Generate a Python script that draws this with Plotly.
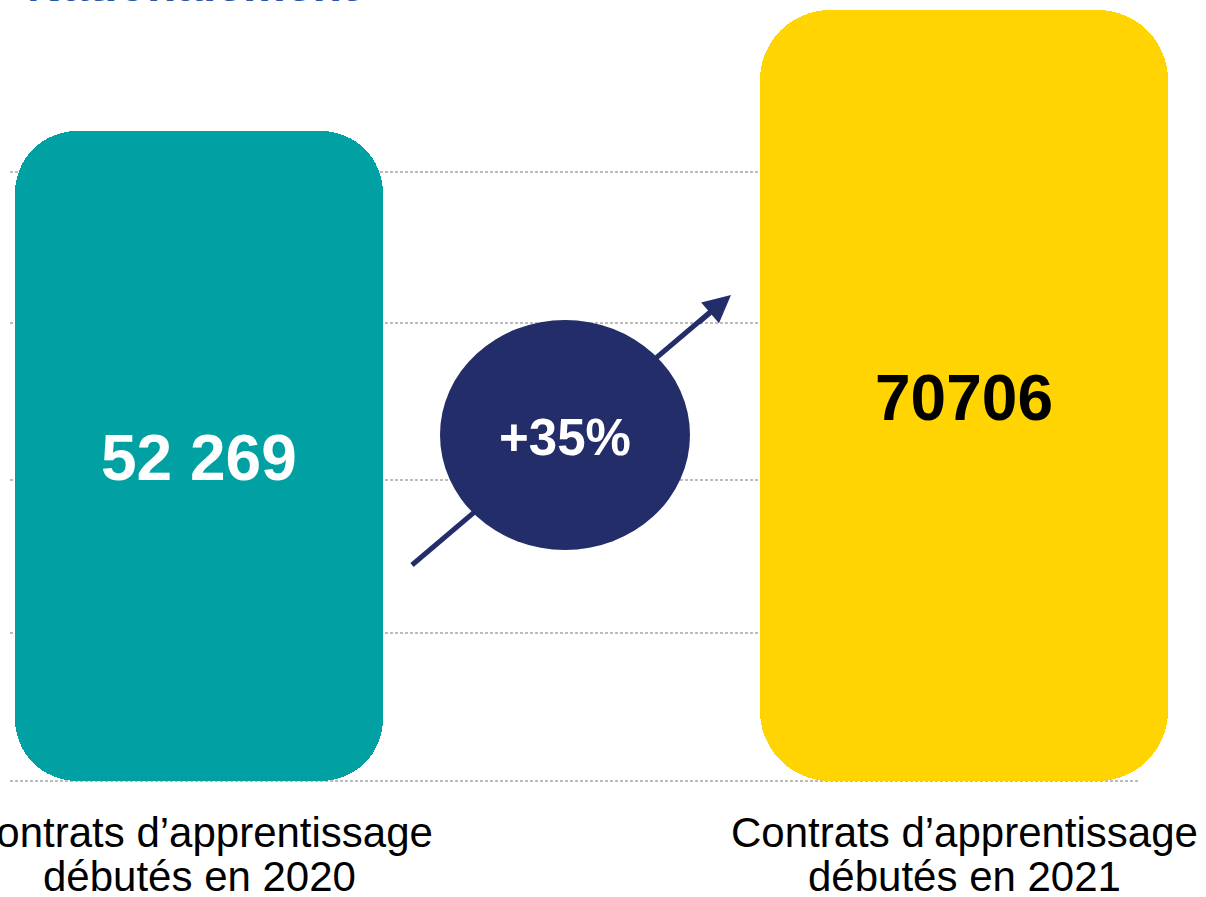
import plotly.graph_objects as go

# ---------------- data ----------------
categories = ["2020", "2021"]
values = [52269, 70706]
value_labels = ["52 269", "70706"]
label_line1 = ["Contrats d\u2019apprentissage", "Contrats d\u2019apprentissage"]
label_line2 = ["débutés en 2020", "débutés en 2021"]
growth_label = "+35%"
title_text = "Nationalement"

# ---------------- styling / layout constants ----------------
W, H = 1206, 897
PLOT_H = 797                      # plot area height in px (top margin 0)
BASE_PX = 781                     # pixel row of the baseline
Y_MAX = 72230                     # axis value at the top edge of the page
BAR_BASE = -46773                 # axis value at the baseline (decorative bar foot)
bar_colors = ["#00A0A3", "#FFD400"]
text_colors = ["#FFFFFF", "#000000"]
bar_widths = [0.481, 0.533]
corner_r = [62, 70]
NAVY = "#232D69"
GRID = "#A6A6A6"
X_RANGE = [-0.26013, 1.31634]
FONT = "Liberation Sans, Arial, sans-serif"

upp = (Y_MAX - BAR_BASE) / BASE_PX   # axis units per pixel


def py(p):
    """pixel row -> y axis value"""
    return Y_MAX - p * upp


def pyp(p):
    """pixel row -> paper y"""
    return (PLOT_H - p) / PLOT_H


def px(p):
    """pixel column -> x axis value"""
    return X_RANGE[0] + p * (X_RANGE[1] - X_RANGE[0]) / W


fig = go.Figure()

# rounded bars: value bar (rounded top) + foot below zero (rounded bottom) + seam band
for i, cat in enumerate(categories):
    mk = dict(color=bar_colors[i], line=dict(width=0), cornerradius=corner_r[i])
    fig.add_trace(go.Bar(x=[cat], y=[values[i]], width=[bar_widths[i]], marker=mk,
                         hoverinfo="skip", showlegend=False))
    fig.add_trace(go.Bar(x=[cat], y=[BAR_BASE], width=[bar_widths[i]], marker=mk,
                         hoverinfo="skip", showlegend=False))
    fig.add_trace(go.Bar(x=[cat], y=[8000], base=[-4000], width=[bar_widths[i]],
                         marker=dict(color=bar_colors[i], line=dict(width=0)),
                         hoverinfo="skip", showlegend=False))

shapes = []
# dotted guide lines
for gp in [172, 323, 480, 633, 781]:
    shapes.append(dict(type="line", xref="paper", yref="y",
                       x0=10 / W, x1=1140 / W, y0=py(gp), y1=py(gp),
                       line=dict(color=GRID, width=1.3, dash="3px,2px"), layer="below"))
# arrow shaft
shapes.append(dict(type="line", xref="x", yref="y",
                   x0=px(412), y0=py(565), x1=px(715), y1=py(308),
                   line=dict(color=NAVY, width=5)))
# ellipse
shapes.append(dict(type="circle", xref="x", yref="y",
                   x0=px(440), x1=px(690), y0=py(550), y1=py(320),
                   fillcolor=NAVY, line=dict(width=0)))

annotations = []
# arrowhead
annotations.append(dict(x=px(731), y=py(295), xref="x", yref="y", text="",
                        showarrow=True, axref="pixel", ayref="pixel", ax=-34, ay=29,
                        arrowhead=2, arrowsize=1.1, arrowwidth=5, arrowcolor=NAVY,
                        standoff=0))
# value labels
val_y = [458, 398]
for i, cat in enumerate(categories):
    annotations.append(dict(x=i, y=py(val_y[i]), xref="x", yref="y",
                            text=f"<b>{value_labels[i]}</b>", showarrow=False,
                            xanchor="center", yanchor="middle",
                            font=dict(family=FONT, size=64, color=text_colors[i])))
# growth label
annotations.append(dict(x=px(565), y=py(437), xref="x", yref="y",
                        text=f"<b>{growth_label}</b>", showarrow=False,
                        xanchor="center", yanchor="middle",
                        font=dict(family=FONT, size=51, color="#FFFFFF")))
# category labels
for i, cat in enumerate(categories):
    annotations.append(dict(x=i, y=pyp(833), xref="x", yref="paper",
                            text=label_line1[i], showarrow=False,
                            xanchor="center", yanchor="middle",
                            font=dict(family=FONT, size=42, color="#000000")))
    annotations.append(dict(x=i, y=pyp(876), xref="x", yref="paper",
                            text=label_line2[i], showarrow=False,
                            xanchor="center", yanchor="middle",
                            font=dict(family=FONT, size=42, color="#000000")))
# title (cut by the top edge)
annotations.append(dict(x=25 / W, y=pyp(-16), xref="paper", yref="paper",
                        text=f"<b>{title_text}</b>", showarrow=False,
                        xanchor="left", yanchor="middle",
                        font=dict(family=FONT, size=48, color="#2A56A3")))

fig.update_layout(
    width=W, height=H,
    margin=dict(l=0, r=0, t=0, b=H - PLOT_H, pad=0),
    paper_bgcolor="#FFFFFF", plot_bgcolor="#FFFFFF",
    barmode="overlay", bargap=0,
    xaxis=dict(type="category", categoryorder="array", categoryarray=categories,
               range=X_RANGE, visible=False, fixedrange=True),
    yaxis=dict(range=[py(PLOT_H), Y_MAX], visible=False, showgrid=False,
               zeroline=False, fixedrange=True),
    shapes=shapes, annotations=annotations, showlegend=False,
)

fig.write_html("out.html", config={"displayModeBar": False},
               post_script="document.body.style.margin='0px';")
